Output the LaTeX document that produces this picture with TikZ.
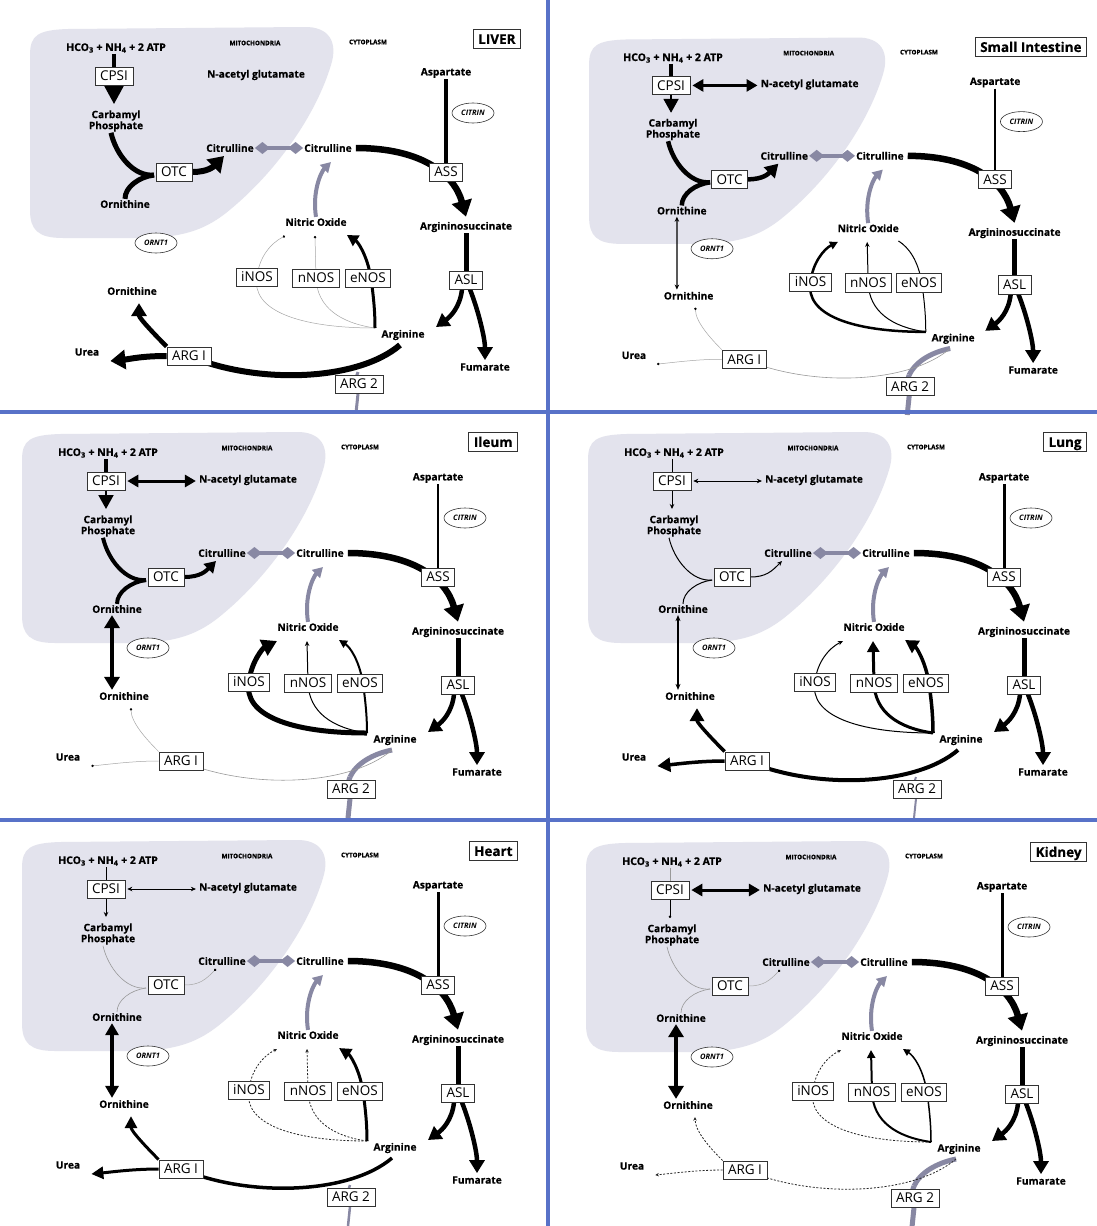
\documentclass[tikz,border=0pt]{standalone}
\usepackage{fontspec}
\setmainfont{Open Sans}[BoldFeatures={FakeBold=0.5}]
\usetikzlibrary{arrows.meta,shapes.geometric}
\pgfdeclarelayer{bgl}
\pgfdeclarelayer{blob}
\pgfdeclarelayer{edges}
\pgfsetlayers{bgl,blob,edges,main}
\definecolor{blobc}{RGB}{227,227,237}
\definecolor{gcol}{RGB}{136,136,163}
\definecolor{sepc}{RGB}{88,114,200}
\tikzset{
 lbl/.style={font=\bfseries\fontsize{10.2}{11}\selectfont, inner sep=1pt, align=center},
 enz/.style={draw=black!80, line width=0.8pt, fill=white, font=\fontsize{13.5}{13.5}\selectfont, inner xsep=5pt, inner ysep=4.3pt, text height=9.6pt, text depth=0pt},
 ell/.style={draw=black!80, ellipse, line width=0.6pt, fill=white, font=\bfseries\itshape\fontsize{7.5}{7.5}\selectfont, minimum width=42pt, minimum height=20pt, inner sep=0pt},
 tinylbl/.style={font=\bfseries\fontsize{6.3}{6.5}\selectfont, inner sep=0pt},
 ttl/.style={draw=black!80, line width=0.9pt, fill=white, anchor=north east, font=\bfseries\fontsize{13.5}{13.5}\selectfont, inner xsep=5pt, inner ysep=4.5pt, text height=10pt, text depth=0pt},
 dia/.style={line width=3.5pt, draw=gcol, {Diamond[length=15pt,width=12pt]}-{Diamond[length=15pt,width=12pt]}},
 sep/.style={line width=4pt, draw=sepc},
 W0/.style={draw=none},
 Wfaint/.style={line width=0.5pt, draw=black!35, >={Circle[length=2.4pt,color=black]}},
 Wfaintline/.style={line width=0.6pt, draw=black!40},
 Wdash/.style={line width=0.8pt, draw=black!85, dash pattern=on 2pt off 1.6pt, >={Stealth[length=3.5pt,width=3.5pt]}},
 Wthin/.style={line width=1pt, >={Stealth[length=5pt,width=4.5pt]}},
 Wmed/.style={line width=2pt, >={Triangle[length=8pt,width=8pt]}},
 Wmt/.style={line width=3pt, >={Triangle[length=11pt,width=12pt]}},
 Wthick/.style={line width=4.5pt, >={Triangle[length=13pt,width=15pt]}},
 Wvthick/.style={line width=6pt, >={Triangle[length=15pt,width=19pt]}},
 ureashift/.style={},
 e-ass/.style={line width=6.5pt, >={Triangle[length=16pt,width=20pt]}},
 e-asl/.style={line width=5pt},
 e-aslarg/.style={line width=4.5pt, >={Triangle[length=13pt,width=15pt]}},
 e-aslfum/.style={line width=4.5pt, >={Triangle[length=13pt,width=15pt]}},
 e-nocit/.style={line width=4pt, draw=gcol, >={Triangle[length=10pt,width=11pt]}},
}
\newcommand\drawpanel[1]{%
\def\PX{#1}%
\begin{pgfonlayer}{blob}
\fill[blobc] (22,50) .. controls (22,30) and (30,25) .. (60,24) -- (295,22) .. controls (322,21) and (330,38) .. (323,60) .. controls (308,110) and (268,168) .. (218,208) .. controls (195,226) and (172,233) .. (130,233) -- (55,233) .. controls (30,233) and (22,225) .. (22,205) -- cycle;
\end{pgfonlayer}
\node[tinylbl] (\PX-mito) at (247,38) {MITOCHONDRIA};
\node[tinylbl] (\PX-cyto) at (360,37) {CYTOPLASM};
\node[lbl, font=\bfseries\fontsize{10.5}{10.5}\selectfont] (\PX-hco) at (108,43) {HCO\textsubscript{3} + NH\textsubscript{4} + 2 ATP};
\node[enz] (\PX-cpsi) at (106,71) {CPSI};
\node[lbl] (\PX-nag) at (248,70) {N-acetyl glutamate};
\node[lbl] (\PX-carb) at (108,116) {Carbamyl\\Phosphate};
\node[enz] (\PX-otc) at (166,167) {OTC};
\node[lbl] (\PX-ornu) at (117,199) {Ornithine};
\node[lbl] (\PX-citl) at (222,143) {Citrulline};
\node[lbl] (\PX-citr) at (320,143) {Citrulline};
\node[lbl] (\PX-asp) at (438,68) {Aspartate};
\node[ell] (\PX-citrin) at (465,108) {CITRIN};
\node[enz] (\PX-ass) at (438,167) {ASS};
\node[lbl] (\PX-argsuc) at (458,222) {Argininosuccinate};
\node[enz] (\PX-asl) at (458,275) {ASL};
\node[lbl] (\PX-arg) at (395,330) {Arginine};
\node[lbl] (\PX-fum) at (477,362) {Fumarate};
\node[lbl] (\PX-no) at (308,217) {Nitric Oxide};
\node[enz] (\PX-inos) at (249,272) {iNOS};
\node[enz] (\PX-nnos) at (308,273) {nNOS};
\node[enz] (\PX-enos) at (360,273) {eNOS};
\node[ell] (\PX-ornt) at (148,238) {ORNT1};
\node[lbl] (\PX-ornl) at (124,286) {Ornithine};
\node[lbl, ureashift] (\PX-urea) at (68,347) {Urea};
\node[enz] (\PX-arg1) at (181,351) {ARG I};
\node[enz] (\PX-arg2) at (351,379) {ARG 2};
\coordinate (\PX-junc) at (146,170);
\coordinate (\PX-cptip) at (106,99);
\coordinate (\PX-cittip) at (216,151);
\coordinate (\PX-conv) at (367,323);
\coordinate (\PX-argtip) at (428,322);
\coordinate (\PX-tipi) at (277,231);
\coordinate (\PX-tipn) at (307,231);
\coordinate (\PX-tipe) at (339,230);
\coordinate (\PX-cittip2) at (323,157);
\coordinate (\PX-a1s) at (392,340);
\coordinate (\PX-a2m) at (350,367);
\coordinate (\PX-a2e) at (348,408);
\coordinate (\PX-ureatip) at ([xshift=10pt,yshift=-9pt]\PX-urea.east);
\coordinate (\PX-orntip) at ([xshift=7pt,yshift=-7pt]\PX-ornl.south);
\begin{pgfonlayer}{edges}
\draw[e-hco] (\PX-hco.south -| \PX-cpsi.north) -- (\PX-cpsi.north);
\draw[<->, shorten <=2pt, shorten >=2pt, e-nag] (\PX-cpsi.east) -- (\PX-cpsi.east -| \PX-nag.west);
\draw[->, e-cp] (\PX-cpsi.south) -- (\PX-cptip);
\draw[e-cpotc] ([xshift=-5pt]\PX-carb.south) .. controls +(5,22) and +(-20,2) .. (\PX-junc);
\draw[e-ornotc] (\PX-ornu.north) .. controls +(0,-12) and +(-15,2) .. (\PX-junc);
\draw[->, e-otccit] (\PX-otc.east) .. controls +(16,0) and +(-10,10) .. (\PX-cittip);
\draw[<->, shorten <=1pt, shorten >=1pt, e-orntr] ([xshift=-5pt]\PX-ornu.south) -- ([xshift=-12pt]\PX-ornl.north);
\draw[dia] (\PX-citl.east) -- (\PX-citr.west);
\draw[->, e-ass] ([xshift=3pt]\PX-citr.east) .. controls (412,143) and (446,168) .. ([yshift=4pt]\PX-argsuc.north);
\draw[e-asp] (\PX-asp.south) -- (\PX-ass.north);
\draw[e-asl] (\PX-argsuc.south) -- (\PX-asl.north);
\draw[->, e-aslarg] ([xshift=-4pt]\PX-asl.south) .. controls +(-2,18) and +(14,-10) .. (\PX-argtip);
\draw[->, e-aslfum] ([xshift=4pt]\PX-asl.south) .. controls +(8,20) and +(0,-22) .. ([yshift=2pt]\PX-fum.north);
\draw[->, e-inos] (\PX-conv) .. controls (290,323) and (243,305) .. (\PX-inos.center) .. controls (251,252) and (263,238) .. (\PX-tipi);
\draw[->, e-nnos] (\PX-conv) .. controls (332,318) and (309,302) .. (\PX-nnos.center) -- (\PX-tipn);
\draw[->, e-enos] (\PX-conv) .. controls (367,300) and (364,282) .. ([xshift=3pt]\PX-enos.center) .. controls (359,250) and (350,237) .. (\PX-tipe);
\draw[->, e-nocit] (\PX-no.north) .. controls +(-4,-25) and +(-10,10) .. (\PX-cittip2);
\draw[e-arg2a] (\PX-a1s) .. controls (372,344) and (356,354) .. (\PX-a2m);
\draw[e-arg2b] (\PX-a2m) .. controls (347,373) and (348,380) .. (\PX-arg2.center) -- (\PX-a2e);
\draw[e-arg1] (\PX-a1s) .. controls (350,376) and (250,380) .. (\PX-arg1.center);
\draw[->, e-urea] (\PX-arg1.west) .. controls +(-25,0) and +(20,-2) .. (\PX-ureatip);
\draw[->, e-orn] (\PX-arg1.north west) .. controls +(-10,-10) and +(0,15) .. (\PX-orntip);
\end{pgfonlayer}
}
\begin{document}
\begin{tikzpicture}[x=1pt,y=-1pt]
\useasboundingbox (0,0) rectangle (1097,1226);
\begin{pgfonlayer}{bgl}
\fill[white] (0,0) rectangle (1097,1226);
\end{pgfonlayer}
% LIVER
\begin{scope}[shift={(8,5)},
 ureashift/.style={xshift=11pt},
 e-hco/.style={line width=4pt},
 e-nag/.style={W0},
 e-cp/.style={line width=2pt, >={Triangle[length=18pt,width=19pt]}},
 e-cpotc/.style={line width=5pt}, e-ornotc/.style={line width=5pt},
 e-otccit/.style={Wvthick},
 e-orntr/.style={W0},
 e-asp/.style={line width=3.5pt},
 e-inos/.style={Wfaint}, e-nnos/.style={Wfaint}, e-enos/.style={Wmt},
 e-arg1/.style={line width=6pt}, e-urea/.style={Wvthick}, e-orn/.style={Wthick},
 e-arg2a/.style={W0}, e-arg2b/.style={line width=3pt, draw=gcol}]
\drawpanel{L}
\end{scope}
% SMALL INTESTINE
\begin{scope}[shift={(567.6,16)}, xscale=0.976, yscale=0.978,
 e-hco/.style={line width=4pt},
 e-nag/.style={Wmt},
 e-cp/.style={line width=2pt, >={Triangle[length=14pt,width=15pt]}},
 e-cpotc/.style={line width=4.5pt}, e-ornotc/.style={line width=4.5pt},
 e-otccit/.style={Wthick},
 e-orntr/.style={line width=1.3pt, >={Stealth[length=5pt,width=4.5pt]}},
 e-asp/.style={line width=2.5pt},
 e-inos/.style={line width=2.5pt, >={Triangle[length=8pt,width=8pt]}},
 e-nnos/.style={Wthin}, e-enos/.style={line width=1pt, arrows=-},
 e-arg1/.style={Wfaintline}, e-urea/.style={Wfaint}, e-orn/.style={Wfaint},
 e-arg2a/.style={line width=5pt, draw=gcol}, e-arg2b/.style={line width=5pt, draw=gcol}]
\drawpanel{S}
\end{scope}
% ILEUM
\begin{scope}[shift={(0,410)},
 e-hco/.style={line width=4pt},
 e-nag/.style={Wmt},
 e-cp/.style={line width=2pt, >={Triangle[length=14pt,width=15pt]}},
 e-cpotc/.style={line width=4pt}, e-ornotc/.style={line width=4pt},
 e-otccit/.style={line width=4pt, >={Triangle[length=11pt,width=13pt]}},
 e-orntr/.style={line width=4pt, >={Triangle[length=13pt,width=15pt]}},
 e-asp/.style={line width=2pt},
 e-inos/.style={line width=5pt, >={Triangle[length=15pt,width=17pt]}},
 e-nnos/.style={Wthin}, e-enos/.style={Wmed},
 e-arg1/.style={Wfaintline}, e-urea/.style={Wfaint}, e-orn/.style={Wfaint},
 e-arg2a/.style={line width=5pt, draw=gcol}, e-arg2b/.style={line width=5pt, draw=gcol}]
\drawpanel{I}
\end{scope}
% LUNG
\begin{scope}[shift={(566,410)},
 e-hco/.style={line width=1pt},
 e-nag/.style={Wthin},
 e-cp/.style={Wthin},
 e-cpotc/.style={line width=1pt}, e-ornotc/.style={line width=1pt},
 e-otccit/.style={Wthin},
 e-orntr/.style={line width=1.5pt, >={Stealth[length=6pt,width=5pt]}},
 e-asp/.style={line width=3pt},
 e-inos/.style={Wthin}, e-nnos/.style={Wmt},
 e-enos/.style={line width=3.5pt, >={Triangle[length=13pt,width=14pt]}},
 e-arg1/.style={line width=4pt},
 e-urea/.style={line width=3.5pt, >={Triangle[length=13pt,width=14pt]}},
 e-orn/.style={line width=3.5pt, >={Triangle[length=13pt,width=14pt]}},
 e-arg2a/.style={W0}, e-arg2b/.style={line width=2pt, draw=gcol}]
\drawpanel{U}
\end{scope}
% HEART
\begin{scope}[shift={(0,818)},
 e-hco/.style={line width=1pt},
 e-nag/.style={Wthin},
 e-cp/.style={Wthin},
 e-cpotc/.style={Wfaintline}, e-ornotc/.style={Wfaintline},
 e-otccit/.style={Wfaint},
 e-orntr/.style={line width=3.5pt, >={Triangle[length=12pt,width=13pt]}},
 e-asp/.style={line width=3pt},
 e-inos/.style={Wdash}, e-nnos/.style={Wdash},
 e-enos/.style={line width=3pt, >={Triangle[length=12pt,width=12pt]}},
 e-arg1/.style={line width=3.5pt},
 e-urea/.style={line width=3pt, >={Triangle[length=12pt,width=12pt]}},
 e-orn/.style={line width=3pt, >={Triangle[length=12pt,width=12pt]}},
 e-arg2a/.style={W0}, e-arg2b/.style={line width=2.5pt, draw=gcol}]
\drawpanel{H}
\end{scope}
% KIDNEY
\begin{scope}[shift={(564,819)},
 e-hco/.style={Wfaintline},
 e-nag/.style={Wmt},
 e-cp/.style={line width=0.7pt, >={Circle[length=2.4pt]}},
 e-cpotc/.style={Wfaintline}, e-ornotc/.style={Wfaintline},
 e-otccit/.style={Wfaint},
 e-orntr/.style={line width=4pt, >={Triangle[length=13pt,width=15pt]}},
 e-asp/.style={line width=3pt},
 e-inos/.style={Wdash}, e-nnos/.style={Wmed},
 e-enos/.style={line width=1.5pt, >={Triangle[length=7pt,width=7pt]}},
 e-arg1/.style={Wdash}, e-urea/.style={Wdash}, e-orn/.style={Wdash},
 e-arg2a/.style={line width=5pt, draw=gcol}, e-arg2b/.style={line width=5pt, draw=gcol}]
\drawpanel{K}
\end{scope}
% titles
\node[ttl] (t-liver) at (521,29) {LIVER};
\node[ttl] (t-si) at (1087,37) {Small Intestine};
\node[ttl] (t-ileum) at (518,432) {Ileum};
\node[ttl] (t-lung) at (1087,432) {Lung};
\node[ttl] (t-heart) at (518,841) {Heart};
\node[ttl] (t-kidney) at (1087,842) {Kidney};
% separators
\draw[sep] (548,0) -- (548,1226);
\draw[sep] (0,412) -- (1097,412);
\draw[sep] (0,820) -- (1097,820);
\end{tikzpicture}
\end{document}
